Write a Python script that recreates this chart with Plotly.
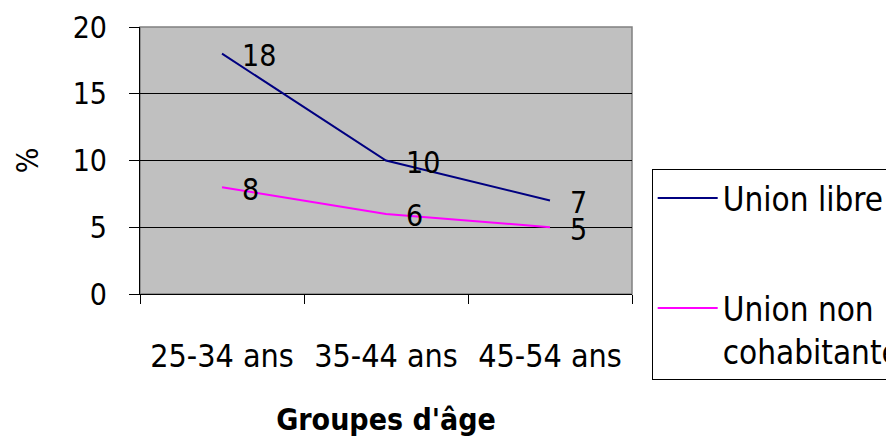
import plotly.graph_objects as go

categories = ["25-34 ans", "35-44 ans", "45-54 ans"]
union_libre = [18, 10, 7]
union_non_cohab = [8, 6, 5]
series_names = ["Union libre", "Union non<br>cohabitante"]
series_colors = ["#000080", "#FF00FF"]
title_text = "Type d'union selon le groupe d'âge"

FONT = "Liberation Sans Narrow, Arial Narrow, DejaVu Sans Condensed, sans-serif"
FS = 30

fig = go.Figure()
for i, (name, vals, col) in enumerate(zip(series_names, [union_libre, union_non_cohab], series_colors)):
    fig.add_trace(go.Scatter(
        x=categories, y=vals, mode="lines", name=name,
        line=dict(color=col, width=2), legendgroup=f"g{i}",
    ))
    for c, v in zip(categories, vals):
        fig.add_annotation(x=c, y=v, text=str(v), showarrow=False,
                           xanchor="left", yanchor="middle", xshift=18, yshift=-2,
                           font=dict(family=FONT, size=FS, color="black"))

fig.add_annotation(xref="paper", yref="paper", x=1.154, y=1.082, xanchor="right", yanchor="bottom",
                   text=f"<b>{title_text}</b>", showarrow=False,
                   font=dict(family=FONT, size=26, color="black"))

fig.update_layout(
    width=894, height=439,
    margin=dict(l=132, r=270, t=19, b=153, autoexpand=False),
    paper_bgcolor="white", plot_bgcolor="#C0C0C0",
    font=dict(family=FONT, size=FS, color="black"),
    showlegend=True,
    legend=dict(x=1.04, xanchor="left", y=0.468, yanchor="top",
                bordercolor="black", borderwidth=1, bgcolor="white",
                tracegroupgap=64, valign="top", itemwidth=60,
                font=dict(family=FONT, size=33, color="black")),
)
fig.update_xaxes(
    type="category", range=[-0.5, 2.5], tickson="boundaries", tickangle=0,
    ticks="outside", ticklen=9, tickcolor="black", ticklabelstandoff=34,
    tickfont=dict(size=32),
    showline=True, linecolor="black", mirror=False, showgrid=False,
    title=dict(text="<b>Groupes d'âge</b>", font=dict(family=FONT, size=30), standoff=34),
)
fig.update_yaxes(
    range=[0, 20], dtick=5, ticks="outside", ticklen=10, tickcolor="black",
    ticklabelstandoff=16, showline=True, linecolor="black",
    showgrid=True, gridcolor="black", gridwidth=1, zeroline=False,
    title=dict(text="%", font=dict(family=FONT, size=FS), standoff=25),
)
fig.add_shape(type="rect", xref="paper", yref="paper", x0=0, y0=0, x1=1, y1=1,
              line=dict(color="#808080", width=1.5), layer="below")

fig.write_html("out.html")
